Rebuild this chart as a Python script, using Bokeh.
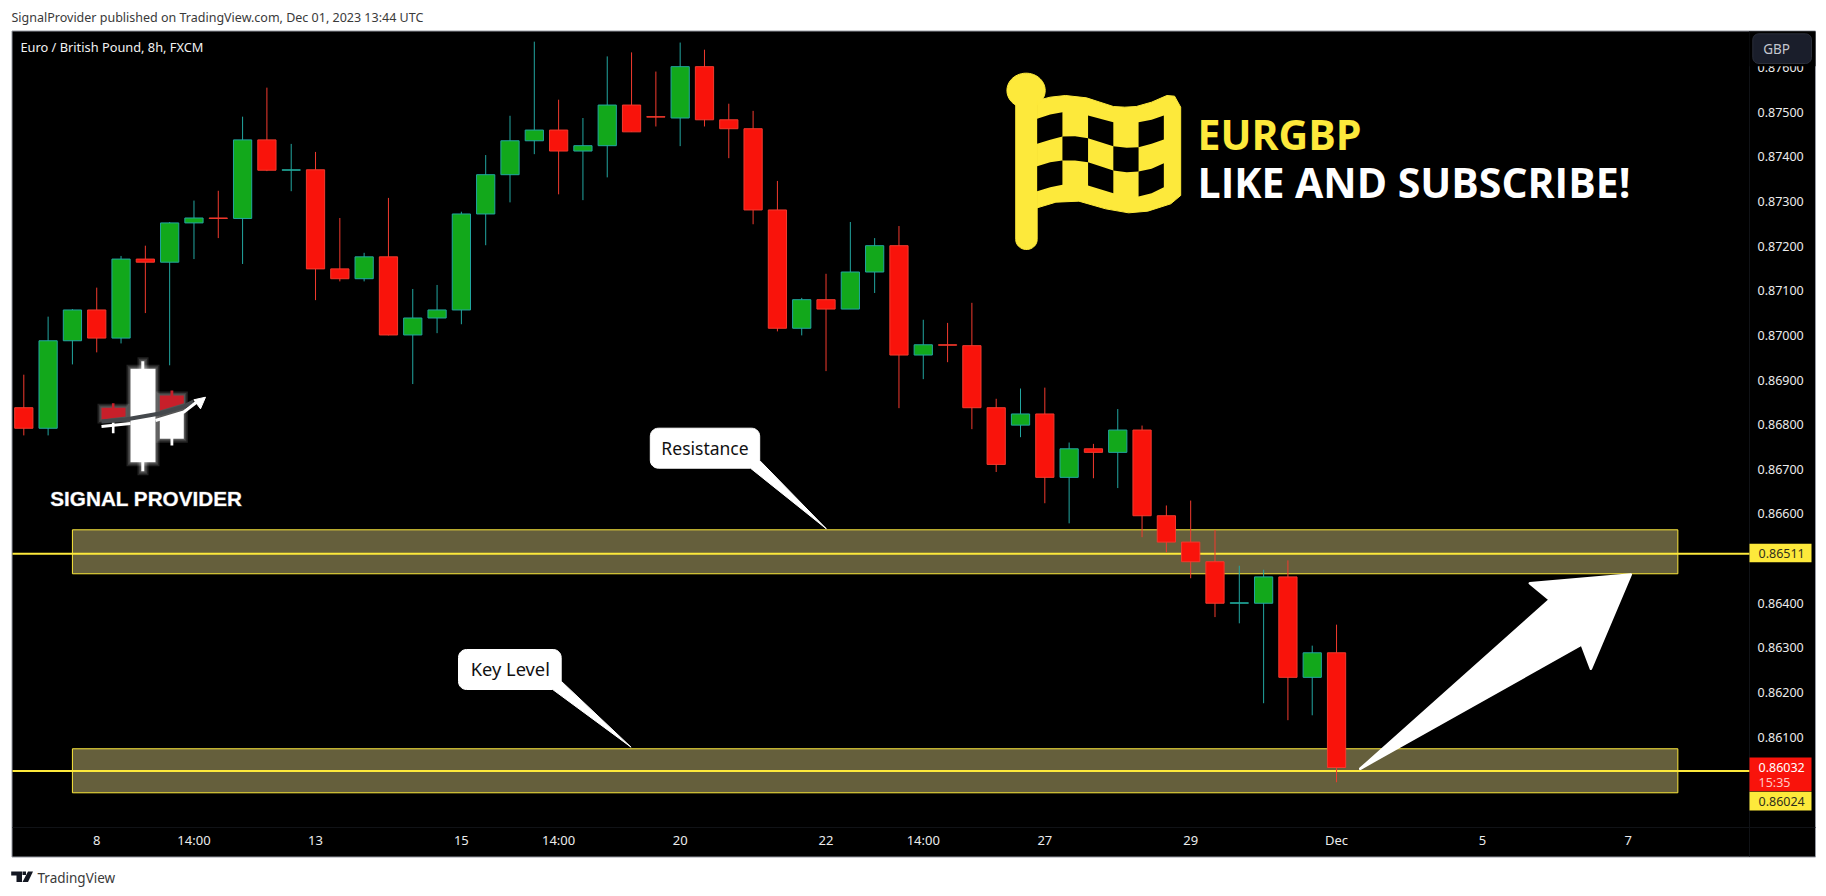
import numpy as np
from bokeh.plotting import figure
from bokeh.embed import file_html
from bokeh.resources import INLINE
from bokeh.models import Label, FixedTicker, NumeralTickFormatter, Range1d, ColumnDataSource

# ---------- data ----------
opens = [.86838,.86792,.86988,.87057,.86994,.87171,.87164,.87252,.87263,.87262,.87438,.87370,.87371,.87149,.87127,
         .87176,.87001,.87039,.87057,.87272,.87360,.87436,.87460,.87413,.87425,.87516,.87490,.87487,.87602,.87483,
         .87463,.87281,.87016,.87080,.87059,.87142,.87201,.86956,.86979,.86977,.86838,.86799,.86824,.86682,.86746,
         .86738,.86788,.86596,.86537,.86493,.86400,.86400,.86459,.86234,.86289]
highs = [.86912,.87042,.87059,.87107,.87178,.87201,.87254,.87302,.87324,.87490,.87555,.87429,.87411,.87263,.87185,
         .87308,.87104,.87113,.87277,.87404,.87492,.87658,.87528,.87487,.87625,.87634,.87591,.87656,.87640,.87519,
         .87503,.87346,.87084,.87138,.87254,.87218,.87245,.87035,.87028,.87073,.86858,.86881,.86883,.86760,.86757,
         .86835,.86798,.86619,.86630,.86564,.86484,.86475,.86496,.86305,.86352]
lows = [.86776,.86776,.86935,.86962,.86982,.87050,.86933,.87171,.87218,.87160,.87368,.87323,.87079,.87121,.87121,
        .87000,.86891,.87005,.87025,.87202,.87298,.87406,.87316,.87303,.87354,.87456,.87468,.87424,.87468,.87397,
        .87249,.87009,.87000,.86920,.87059,.87095,.86837,.86902,.86940,.86790,.86694,.86772,.86624,.86579,.86680,
        .86658,.86548,.86514,.86456,.86369,.86355,.86176,.86138,.86149,.85999]
closes = [.86792,.86988,.87057,.86994,.87171,.87164,.87252,.87263,.87262,.87438,.87370,.87371,.87149,.87127,.87176,
          .87001,.87039,.87057,.87272,.87360,.87436,.87460,.87413,.87425,.87516,.87456,.87489,.87602,.87483,.87463,
          .87281,.87016,.87080,.87059,.87142,.87201,.86956,.86979,.86978,.86838,.86711,.86824,.86682,.86746,.86738,
          .86788,.86596,.86537,.86493,.86400,.86401,.86459,.86234,.86289,.86032]

price_ticks = [.876,.875,.874,.873,.872,.871,.870,.869,.868,.867,.866,.864,.863,.862,.861]
time_ticks = [3, 7, 12, 18, 22, 27, 33, 37, 42, 48, 54, 60, 66]
time_labels = ["8","14:00","13","15","14:00","20","22","14:00","27","29","Dec","5","7"]

zone_left, zone_right = 2.0, 68.04
zone_tops = [.865645, .86074]
zone_bottoms = [.86466, .859754]
level_prices = [.86511, .86024]
last_price = .86032

# ---------- pixel <-> data mapping of the page (decorations only) ----------
X0, DX, Y0, KY = 23.3, 24.31, 111.7, 44640.0
W, H = 1824, 894
def px(v): return (np.asarray(v, dtype=float) - X0) / DX
def py(v): return 0.875 + (Y0 - np.asarray(v, dtype=float)) / KY

UP_F, UP_L = "#12a81b", "#22a6a0"
DN_F, DN_L = "#f9130b", "#f23a2e"
YEL = "#fde93b"

p = figure(width=W, height=H, output_backend="svg", toolbar_location=None,
           x_range=Range1d(float(px(0)), float(px(W))),
           y_range=Range1d(float(py(H)), float(py(0))),
           y_axis_location="right", min_border=0,
           background_fill_color="white", border_fill_color="white")
p.outline_line_color = None
p.grid.visible = False

def rect(l, r, tp, b, color, level=None, **kw):
    rr = p.quad(left=[float(px(l))], right=[float(px(r))], top=[float(py(tp))], bottom=[float(py(b))],
                fill_color=color, line_color=kw.pop("line_color", None), **kw)
    if level:
        rr.level = level
    return rr

# chart panel with frame
rect(11.5, 1815, 30.5, 856.5, "black", line_color="#9598a1", line_width=1)
p.segment(x0=[float(px(12)), float(px(1749))], x1=[float(px(1815)), float(px(1749))],
          y0=[float(py(827)), float(py(31))], y1=[float(py(827)), float(py(856))], line_color="#101216", line_width=1)

ax = p.yaxis[0]
ax.fixed_location = float(px(1749))
ax.ticker = FixedTicker(ticks=price_ticks)
ax.formatter = NumeralTickFormatter(format="0.00000")
ax.major_tick_line_color = None
ax.minor_tick_line_color = None
ax.axis_line_color = None
ax.major_label_text_color = "#ececec"
ax.major_label_text_font = "Noto Sans"
ax.major_label_text_font_size = "12.5px"
ax.major_label_standoff = 2

bx = p.xaxis[0]
bx.fixed_location = float(py(817))
bx.ticker = FixedTicker(ticks=time_ticks)
bx.major_label_overrides = dict(zip(time_ticks, time_labels))
bx.major_tick_line_color = None
bx.minor_tick_line_color = None
bx.axis_line_color = None
bx.major_label_text_color = "#ececec"
bx.major_label_text_font = "Noto Sans"
bx.major_label_text_font_size = "13px"
bx.major_label_standoff = 7

# zones and price lines
p.quad(left=[zone_left]*2, right=[zone_right]*2, top=zone_tops, bottom=zone_bottoms,
       fill_color="#655f3c", line_color=YEL, line_width=1)
p.segment(x0=[float(px(12))]*2, x1=[float(px(1749))]*2, y0=level_prices, y1=level_prices, line_color=YEL, line_width=2)

# candles
idx = np.arange(len(opens))
o, h, l_, c = map(np.array, (opens, highs, lows, closes))
up = c > o
for mask, fc, lc in [(up, UP_F, UP_L), (~up, DN_F, DN_L)]:
    s = ColumnDataSource(dict(x=idx[mask], top=np.maximum(o, c)[mask], bottom=np.minimum(o, c)[mask],
                              high=h[mask], low=l_[mask]))
    p.segment("x", "high", "x", "low", source=s, line_color=lc, line_width=1)
    p.vbar("x", 0.75, "bottom", "top", source=s, fill_color=fc, line_color=lc, line_width=1)

# flag emblem (crop coordinates -> page pixels)
def fx(v): return px(600 + np.asarray(v, dtype=float) / 2.613)
def fy(v): return py(np.asarray(v, dtype=float) / 3)
def poly(points, **kw):
    a = np.array(points, dtype=float)
    return p.patch(fx(a[:, 0]), fy(a[:, 1]), **kw)

flag = [(1141,300),(1175,290),(1215,285),(1270,292),(1305,305),(1340,318),(1370,320),(1400,318),(1440,305),(1480,285),(1500,287),(1516,320),
        (1516,585),(1490,610),(1430,632),(1380,637),(1320,625),(1250,602),(1190,605),(1141,622)]
poly(flag, fill_color=YEL, line_color=YEL)
t = np.linspace(0, 2*np.pi, 60)
poly(np.column_stack([1112 + 50*np.cos(t), 270 + 52*np.sin(t)]), fill_color=YEL, line_color=YEL)
t2 = np.linspace(0, np.pi, 20)
pole = np.vstack([[(1085, 300), (1141, 300), (1141, 717)],
                  np.column_stack([1113 + 28*np.cos(t2), 717 + 30*np.sin(t2)])])
poly(pole, fill_color=YEL, line_color=YEL)
cells = [
    [(1141,355),(1175,342),(1207,335),(1207,408),(1175,418),(1141,430)],
    [(1274,345),(1340,365),(1340,437),(1274,413)],
    [(1406,365),(1440,358),(1472,345),(1472,417),(1440,430),(1406,440)],
    [(1207,408),(1240,407),(1274,413),(1274,485),(1240,480),(1207,480)],
    [(1340,437),(1375,442),(1406,440),(1406,513),(1375,515),(1340,510)],
    [(1141,497),(1175,485),(1207,480),(1207,553),(1175,560),(1141,572)],
    [(1274,485),(1340,510),(1340,578),(1274,555)],
    [(1406,513),(1440,505),(1472,488),(1472,560),(1440,578),(1406,588)],
]
for cell in cells:
    poly(cell, fill_color="black", line_color=None)

# big arrow
arrow_px = [(1359.7,768.3),(1549.3,599.3),(1529.3,582.7),(1630.3,574),(1590.4,668.3),(1581.2,644),(1359.7,768.3)]
a = np.array(arrow_px)
p.patch(px(a[:,0]), py(a[:,1]), fill_color="white", line_color="white", line_width=2.5, line_join="round")

# callouts and rounded boxes
def corners(l, r, tp, b, radius):
    out = []
    for cx, cy, a0 in [(l+radius, tp+radius, np.pi), (r-radius, tp+radius, 1.5*np.pi),
                       (r-radius, b-radius, 0), (l+radius, b-radius, .5*np.pi)]:
        th = np.linspace(a0, a0+.5*np.pi, 8)
        out.append(np.column_stack([cx+radius*np.cos(th), cy+radius*np.sin(th)]))
    return out

def callout(l, r, tp, b, base1, tip, base2, radius=8):
    cs = corners(l, r, tp, b, radius)
    arr = np.vstack([cs[0], cs[1], [base1], [tip], [base2], cs[3]])
    p.patch(px(arr[:,0]), py(arr[:,1]), fill_color="white", line_color="white", line_width=1)

callout(649.8, 759.2, 427.7, 467.7, (759.2,460), (825.8,528.3), (750,467.7))
callout(458, 560.7, 649, 689, (560.7,680.7), (630.6,746.7), (552.2,689))

# signal provider logo
RED = "#c81f2a"
def glow(l, r, tp, b):
    for off in (4, 2.5, 1.2):
        rect(l-off, r+off, tp-off, b+off, "white", fill_alpha=.13)
for g in [(130, 155, 368.3, 461.7), (159.3, 183.3, 395, 438.3), (101, 125, 407.3, 419), (141, 144, 360.7, 470.7)]:
    glow(*g)
rect(140.8, 143.8, 360.7, 470.7, "white")
rect(130, 155, 368.3, 461.7, "white")
rect(170, 172.8, 425, 445, "white")
p.patch(px([159.3, 183.3, 183.3, 159.3]), py([418, 411, 438.3, 438.3]), fill_color="white", line_color=None)
rect(111.4, 114, 422, 432.7, "white")
rect(111.4, 114, 402.7, 410, RED)
rect(170, 172.8, 390, 398, RED)
p.patch(px([101, 125, 125, 101]), py([407.3, 407.3, 416, 419]), fill_color=RED, line_color=None)
p.patch(px([159.3, 183.3, 183.3, 159.3]), py([395, 395, 402.7, 410]), fill_color=RED, line_color=None)
p.line(px([101, 125, 159.3, 183.3, 193]), py([421, 419, 413, 406, 401]), line_color="#44484c", line_width=4)
p.line(px([101, 130]), py([426, 423]), line_color="white", line_width=3)
p.line(px([155, 183.3, 197]), py([420, 411.5, 401]), line_color="white", line_width=3)
p.patch(px([205, 193.3, 200]), py([396.7, 399.3, 408.3]), fill_color="white", line_color="white")

def txt(x, y, s, color, size, font="Noto Sans", weight="normal", align="left", **kw):
    p.add_layout(Label(x=float(px(x)), y=float(py(y)), text=s, text_color=color, text_font=font,
                       text_font_size=f"{size}px", text_font_style=weight, text_align=align,
                       text_baseline="middle", **kw))

txt(11, 16.7, "SignalProvider published on TradingView.com, Dec 01, 2023 13:44 UTC", "#3a3a3a", 12.5)
txt(20, 46.7, "Euro / British Pound, 8h, FXCM", "#f2f2f2", 12.8)
txt(49.8, 498.3, "SIGNAL PROVIDER", "white", 20.7, font="Liberation Sans", weight="bold",
    text_outline_color="rgba(255,255,255,0.3)")
txt(1197, 133, "EURGBP", YEL, 41, font="Open Sans", weight="bold")
txt(1197, 181.7, "LIKE AND SUBSCRIBE!", "white", 41, font="Open Sans", weight="bold")
txt(704.5, 447, "Resistance", "#111111", 17.5, align="center")
txt(509.8, 668.3, "Key Level", "#111111", 18.3, align="center")

# price scale tags
r_b = rect(1749, 1815, 31, 65.7, "black", level="annotation")
gb = np.vstack(corners(1752.3, 1811, 33.3, 63, 6))
r_g = p.patch(px(gb[:,0]), py(gb[:,1]), fill_color="#1a1e2b", line_color="#2a2e39", line_width=1)
r_g.level = "overlay"
p.add_layout(Label(x=float(px(1762.7)), y=float(py(48.7)), text="GBP", text_color="#c3c6ce", text_font="Noto Sans",
                   text_font_size="13.5px", text_baseline="middle", level="overlay"))
rect(1749, 1811, 543.3, 561.7, YEL, level="annotation")
txt(1758, 552.7, f"{level_prices[0]:.5f}", "#2f2f1c", 12.5)
rect(1749, 1811, 757, 790.7, DN_F, level="annotation")
txt(1758, 766.7, f"{last_price:.5f}", "white", 12.5)
txt(1758, 781.7, "15:35", "#ffc9c4", 12.5)
rect(1749, 1811, 791.3, 810, YEL, level="annotation")
txt(1758, 800.7, f"{level_prices[1]:.5f}", "#2f2f1c", 12.5)

# TradingView mark
def mark(points):
    a = np.array(points, dtype=float)
    p.patch(px(a[:,0]), py(a[:,1]), fill_color="#131722", line_color=None)
mark([(10.7,871),(21.5,871),(21.5,881.5),(16,881.5),(16,875),(10.7,875)])
mark([(27.5,871),(32.5,871),(27.5,881.5),(22,881.5)])
mark([(22,871),(25.5,871),(25.5,874.5),(22,874.5)])
txt(37, 877, "TradingView", "#3a3a3a", 13.5)

open("out.html", "w").write(file_html(p, INLINE))
